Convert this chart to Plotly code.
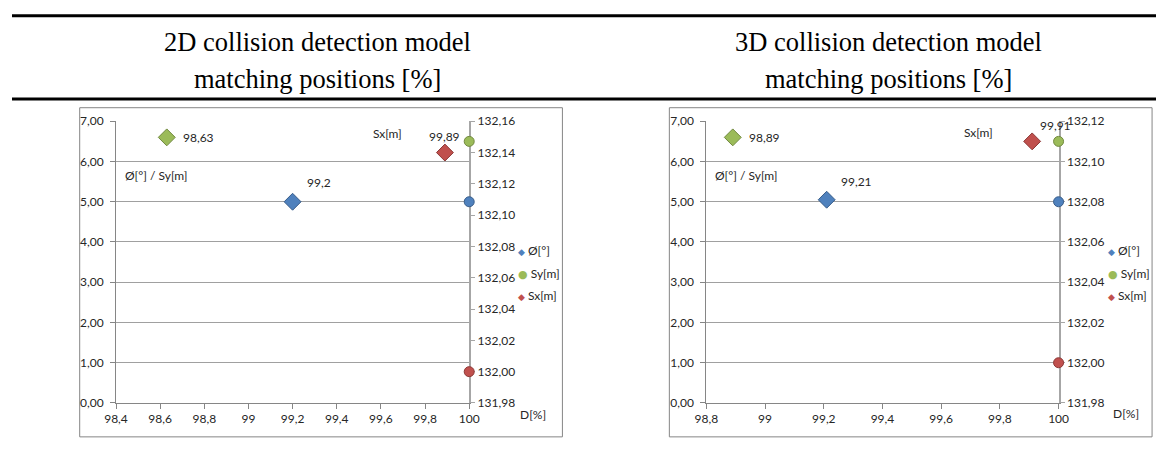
import plotly.graph_objects as go

W, H = 1166, 470

# ---------------- data ----------------
series_names = ["Ø[°]", "Sy[m]", "Sx[m]"]
series_colors = ["#4f81bd", "#9bbb59", "#c0504d"]
series_edges = ["#385d8a", "#71893f", "#8c3836"]

# 2D collision detection model
d2_phi_x = [99.2, 100]
d2_phi_y = [5.0, 5.0]
d2_sy_x = [100, 98.63]
d2_sy_y = [6.5, 6.6]
d2_sx_x = [99.89, 100]
d2_sx_y = [132.14, 132.00]

# 3D collision detection model
d3_phi_x = [99.21, 100]
d3_phi_y = [5.05, 5.0]
d3_sy_x = [100, 98.89]
d3_sy_y = [6.5, 6.6]
d3_sx_x = [99.91, 100]
d3_sx_y = [132.11, 132.00]

phi_symbols = ["diamond", "circle"]
sy_symbols = ["circle", "diamond"]
sx_symbols = ["diamond", "circle"]

x_tickvals_2d = [98.4, 98.6, 98.8, 99.0, 99.2, 99.4, 99.6, 99.8, 100.0]
x_ticktext_2d = ["98,4", "98,6", "98,8", "99", "99,2", "99,4", "99,6", "99,8", "100"]
x_tickvals_3d = [98.8, 99.0, 99.2, 99.4, 99.6, 99.8, 100.0]
x_ticktext_3d = ["98,8", "99", "99,2", "99,4", "99,6", "99,8", "100"]

titles_2d = ["2D collision detection model", "matching positions [%]"]
titles_3d = ["3D collision detection model", "matching positions [%]"]

# ---------------- figure ----------------
FONT = "Lato, 'Open Sans', sans-serif"
TXT = "#262626"
FS = 12


def px(x):
    return x / W


def py(y):
    return 1 - y / H


fig = go.Figure()


def sizes(symbols):
    return [13 if s == "diamond" else 10 for s in symbols]


def add_series(xs, ys, symbols, idx, xa, ya):
    fig.add_trace(go.Scatter(
        x=xs, y=ys, mode="markers", xaxis=xa, yaxis=ya,
        name=series_names[idx], showlegend=False, cliponaxis=False,
        marker=dict(symbol=symbols, size=sizes(symbols), color=series_colors[idx],
                    opacity=1, line=dict(color=series_edges[idx], width=1)),
        hoverinfo="x+y",
    ))


add_series(d2_phi_x, d2_phi_y, phi_symbols, 0, "x", "y")
add_series(d2_sy_x, d2_sy_y, sy_symbols, 1, "x", "y")
add_series(d2_sx_x, d2_sx_y, sx_symbols, 2, "x", "y2")
add_series(d3_phi_x, d3_phi_y, phi_symbols, 0, "x2", "y3")
add_series(d3_sy_x, d3_sy_y, sy_symbols, 1, "x2", "y3")
add_series(d3_sx_x, d3_sx_y, sx_symbols, 2, "x2", "y4")

ydom = [py(408), py(117)]
left_x = [px(106), px(466)]
right_x = [px(707.7), px(1066.7)]

common_x = dict(showgrid=False, zeroline=False, showline=True, linecolor="#868686",
                linewidth=1, ticks="outside", ticklen=5, tickcolor="#868686",
                layer="below traces",
                tickfont=dict(family=FONT, size=FS, color=TXT), fixedrange=True)
common_y = dict(showgrid=True, gridcolor="#a0a0a0", gridwidth=1, zeroline=False,
                showline=True, linecolor="#868686", linewidth=1, ticks="outside",
                ticklen=5, tickcolor="#868686", range=[0, 7], dtick=1, tick0=0,
                tickformat=".2f", ticklabelstandoff=4, layer="below traces",
                tickfont=dict(family=FONT, size=FS, color=TXT), fixedrange=True)
common_y2 = dict(showgrid=False, zeroline=False, showline=True, linecolor="#a6a6a6",
                 linewidth=2, ticks="outside", ticklen=4, tickcolor="#a6a6a6",
                 dtick=0.02, tick0=131.98, tickformat=".2f", side="right",
                 layer="below traces",
                 tickfont=dict(family=FONT, size=FS, color=TXT), fixedrange=True)

fig.update_layout(
    width=W, height=H, margin=dict(l=0, r=0, t=0, b=0),
    paper_bgcolor="white", plot_bgcolor="white", separators=",.",
    showlegend=False,
    xaxis=dict(domain=left_x, range=[98.4, 100], tickvals=x_tickvals_2d,
               ticktext=x_ticktext_2d, anchor="y", **common_x),
    yaxis=dict(domain=ydom, anchor="x", **common_y),
    yaxis2=dict(overlaying="y", anchor="x", range=[131.98, 132.16], **common_y2),
    xaxis2=dict(domain=right_x, range=[98.8, 100], tickvals=x_tickvals_3d,
                ticktext=x_ticktext_3d, anchor="y3", **common_x),
    yaxis3=dict(domain=ydom, anchor="x2", **common_y),
    yaxis4=dict(overlaying="y3", anchor="x2", range=[131.98, 132.12], **common_y2),
)

shapes = []
# table rules
for yy in (8, 94):
    shapes.append(dict(type="line", xref="paper", yref="paper", x0=0, x1=1,
                       y0=py(yy), y1=py(yy), line=dict(color="black", width=3)))
# chart boxes
for x0, x1 in ((69, 561), (670, 1162)):
    shapes.append(dict(type="rect", xref="paper", yref="paper", x0=px(x0), x1=px(x1),
                       y0=py(443), y1=py(103), line=dict(color="#868686", width=1),
                       layer="below"))
fig.update_layout(shapes=shapes)

ann = []
SERIF = "'Liberation Serif', 'Times New Roman', serif"
for cx, lines in ((311, titles_2d), (893, titles_3d)):
    for yy, t in zip((35, 73), lines):
        ann.append(dict(text=t, xref="paper", yref="paper", x=px(cx), y=py(yy),
                        xanchor="center", yanchor="middle", showarrow=False,
                        font=dict(family=SERIF, size=26.5, color="black")))


def fmt(v):
    return ("%g" % v).replace(".", ",")


# data labels (diamond points)
def label(xv, yv, xr, yr, xanchor, xshift, yshift):
    ann.append(dict(text=fmt(xv), x=xv, y=yv, xref=xr, yref=yr, xanchor=xanchor,
                    yanchor="middle", xshift=xshift, yshift=yshift, showarrow=False,
                    font=dict(family=FONT, size=FS, color=TXT)))


label(d2_sy_x[1], d2_sy_y[1], "x", "y", "left", 14, 0)
label(d2_phi_x[0], d2_phi_y[0], "x", "y", "left", 12, 19)
label(d2_sx_x[0], d2_sx_y[0], "x", "y2", "center", 0, 16)
label(d3_sy_x[1], d3_sy_y[1], "x2", "y3", "left", 14, 0)
label(d3_phi_x[0], d3_phi_y[0], "x2", "y3", "left", 12, 18)
label(d3_sx_x[0], d3_sx_y[0], "x2", "y4", "left", 6, 16)


# axis captions
def cap(t, x, y, xanchor="left"):
    ann.append(dict(text=t, xref="paper", yref="paper", x=px(x), y=py(y),
                    xanchor=xanchor, yanchor="middle", showarrow=False,
                    font=dict(family=FONT, size=FS, color=TXT)))


cap("Ø[°] / Sy[m]", 113, 173)
cap("Sx[m]", 366, 130)
cap("D[%]", 516, 420)
cap("Ø[°] / Sy[m]", 714, 173)
cap("Sx[m]", 968, 129)
cap("D[%]", 1120, 419)

# legends (symbol + name as one text)
legend_symbols = ["◆", "●", "◆"]
legend_sym_size = [9, 11, 9]
for lx in (515, 1116):
    for i, yy in enumerate((251, 274, 297)):
        txt = ('<span style="color:%s;font-size:%dpx;font-family:DejaVu Sans">%s</span> %s'
               % (series_colors[i], legend_sym_size[i], legend_symbols[i], series_names[i]))
        ann.append(dict(text=txt, xref="paper", yref="paper",
                        x=px(lx), y=py(yy), xanchor="left", yanchor="middle",
                        showarrow=False, borderpad=0,
                        font=dict(family=FONT, size=FS, color=TXT)))

fig.update_layout(annotations=ann)

fig.write_html(
    "out.html",
    config={"displayModeBar": False},
    post_script="document.body.style.margin='0';document.body.style.overflow='hidden';",
)
